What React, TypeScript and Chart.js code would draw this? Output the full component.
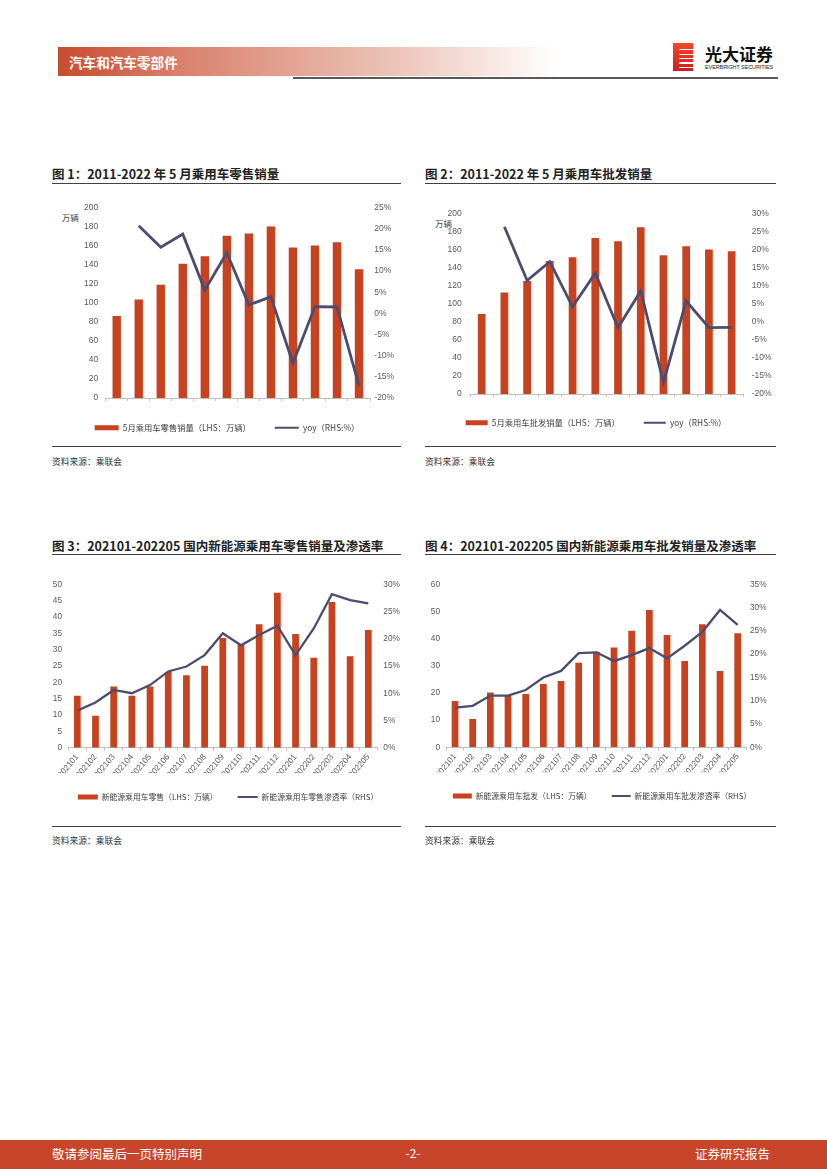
import React, { useEffect, useRef } from 'react';
import { Chart, registerables } from 'chart.js';

Chart.register(...registerables);

// ---------- data ----------
const years = ['2011', '2012', '2013', '2014', '2015', '2016', '2017', '2018', '2019', '2020', '2021', '2022'];
const retailMay = [86, 103.5, 119, 141, 148.8, 170.4, 172.8, 180, 157.9, 160, 163.4, 135.2];
const retailYoy = [null, 20.7, 15.6, 18.7, 5.5, 14.3, 2.0, 3.9, -11.8, 1.6, 1.5, -17.1];
const wholesaleMay = [88.8, 112.6, 125.5, 147.5, 151.9, 173.1, 169.5, 185.2, 154.1, 164, 160.4, 158.5];
const wholesaleYoy = [null, 26.4, 11.5, 16.7, 4.2, 13.5, -1.6, 8.6, -16.8, 5.8, -1.6, -1.5];

const months = ['202101', '202102', '202103', '202104', '202105', '202106', '202107', '202108', '202109', '202110', '202111', '202112', '202201', '202202', '202203', '202204', '202205'];
const nevRetail = [15.9, 9.8, 18.7, 15.9, 18.7, 23.2, 22.2, 25.1, 33.6, 31.6, 37.8, 47.4, 34.8, 27.5, 44.6, 28.0, 36.0];
const nevRetailRate = [6.8, 8.3, 10.6, 10.0, 11.5, 14.0, 14.9, 17.0, 21.0, 18.8, 20.7, 22.4, 17.0, 21.9, 28.2, 27.1, 26.5];
const nevWholesale = [17.0, 10.4, 20.2, 18.9, 19.6, 23.3, 24.4, 31.1, 35.2, 36.7, 42.9, 50.5, 41.3, 31.8, 45.3, 28.1, 42.0];
const nevWholesaleRate = [8.5, 8.9, 11.1, 11.1, 12.3, 15.0, 16.4, 20.2, 20.4, 18.5, 19.8, 21.3, 19.1, 21.8, 24.8, 29.5, 26.3];

// axis ranges [min, max, step]
const axis1Left = [0, 200, 20];
const axis1Right = [-20, 25, 5];
const axis2Left = [0, 200, 20];
const axis2Right = [-20, 30, 5];
const axis3Left = [0, 50, 5];
const axis3Right = [0, 30, 5];
const axis4Left = [0, 60, 10];
const axis4Right = [0, 35, 5];

// ---------- styles ----------
const BAR = '#C8421F';
const LINE = '#4B4D70';
const AXIS = '#BFBFBF';
const TICK = '#595959';
const FONT = '"Liberation Sans", "Noto Sans CJK SC", sans-serif';
const CJK = '"Noto Sans CJK SC", "Liberation Sans", sans-serif';

Chart.defaults.font.family = FONT;

type Spec = {
  labels: string[];
  bars: number[];
  line: (number | null)[];
  barLabel: string;
  lineLabel: string;
  left: number[];
  right: number[];
  canvasLeft: number;
  canvasTop: number;
  canvasWidth: number;
  plotLeft: number;
  plotRight: number;
  plotTop: number;
  plotBottom: number;
  legendY: number;
  legendFont: number;
  legendPad: number;
  swatch: number;
  tickFont: number;
  xFont: number;
  xPad: number;
  rotation: number;
  barPct: number;
  lineWidth: number;
  leftPad: number;
  rightPad: number;
};

function ComboChart({ s }: { s: Spec }) {
  const ref = useRef<HTMLCanvasElement>(null);
  const L = s.legendFont + s.legendPad + 10;
  const H = Math.round(s.legendY - s.canvasTop + 10 + s.legendFont / 2);
  const W = s.canvasWidth;
  const hx = Math.max(0, H - L - (s.plotBottom - s.canvasTop));
  useEffect(() => {
    const chart = new Chart(ref.current as HTMLCanvasElement, {
      type: 'bar',
      data: {
        labels: s.labels,
        datasets: [
          {
            type: 'bar',
            label: s.barLabel,
            data: s.bars,
            backgroundColor: BAR,
            yAxisID: 'y',
            barPercentage: s.barPct,
            categoryPercentage: 1,
            order: 2,
          } as any,
          {
            type: 'line',
            label: s.lineLabel,
            data: s.line,
            borderColor: LINE,
            backgroundColor: LINE,
            borderWidth: s.lineWidth,
            pointRadius: 0,
            tension: 0,
            yAxisID: 'y1',
            order: 1,
            borderJoinStyle: 'miter',
          } as any,
        ],
      },
      options: {
        responsive: false,
        animation: false,
        layout: { padding: { top: s.plotTop - s.canvasTop, left: 0, right: 0, bottom: 0 } },
        plugins: {
          tooltip: { enabled: false },
          legend: {
            position: 'bottom',
            labels: {
              usePointStyle: true,
              pointStyleWidth: s.swatch,
              boxHeight: 5,
              padding: s.legendPad,
              color: '#404040',
              font: { size: s.legendFont, family: CJK },
              generateLabels: (c: any) => {
                const items = (Chart.defaults.plugins.legend.labels as any).generateLabels(c);
                items.sort((a: any, b: any) => a.datasetIndex - b.datasetIndex);
                return items.map((it: any) =>
                  it.datasetIndex === 0
                    ? { ...it, pointStyle: 'rect', lineWidth: 0, fillStyle: BAR, strokeStyle: BAR }
                    : { ...it, pointStyle: 'line', lineWidth: 2, fillStyle: LINE, strokeStyle: LINE }
                );
              },
            },
          },
        },
        scales: {
          x: {
            grid: { display: true, drawOnChartArea: false, drawTicks: true, tickLength: 3, color: AXIS, offset: true },
            border: { display: true, color: AXIS },
            ticks: {
              font: { size: s.xFont },
              color: TICK,
              padding: s.xPad,
              maxRotation: s.rotation,
              minRotation: s.rotation,
              autoSkip: false,
            },
            afterFit: (sc: any) => {
              sc.height = hx;
            },
          },
          y: {
            position: 'left',
            min: s.left[0],
            max: s.left[1],
            ticks: { stepSize: s.left[2], font: { size: s.tickFont }, color: TICK, padding: s.leftPad },
            grid: { display: false, drawTicks: false },
            border: { display: false },
            afterFit: (sc: any) => {
              sc.width = s.plotLeft - s.canvasLeft;
            },
          },
          y1: {
            position: 'right',
            min: s.right[0],
            max: s.right[1],
            ticks: {
              stepSize: s.right[2],
              font: { size: s.tickFont },
              color: TICK,
              padding: s.rightPad,
              callback: (v: any) => v + '%',
            },
            grid: { display: false, drawTicks: false },
            border: { display: false },
            afterFit: (sc: any) => {
              sc.width = s.canvasLeft + W - s.plotRight;
            },
          },
        },
      } as any,
    });
    return () => chart.destroy();
  }, []);
  return (
    <canvas
      ref={ref}
      width={W}
      height={H}
      style={{ position: 'absolute', left: s.canvasLeft, top: s.canvasTop, width: W, height: H }}
    />
  );
}

function Txt({ x, y, size, children, color = '#333', bold = false, family = CJK, align = 'left' as any }: any) {
  const style: any = {
    position: 'absolute',
    top: y - size * 0.6,
    fontSize: size,
    lineHeight: size * 1.2 + 'px',
    color,
    fontWeight: bold ? 'bold' : 'normal',
    fontFamily: family,
    whiteSpace: 'nowrap',
  };
  if (align === 'center') {
    style.left = x;
    style.transform = 'translateX(-50%)';
  } else if (align === 'right') {
    style.right = 827 - x;
  } else {
    style.left = x;
  }
  return <div style={style}>{children}</div>;
}

function Rule({ x1, x2, y, color = '#404040', h = 1 }: any) {
  return <div style={{ position: 'absolute', left: x1, top: y, width: x2 - x1, height: h, background: color }} />;
}

const spec1: Spec = {
  labels: years, bars: retailMay, line: retailYoy,
  barLabel: '5月乘用车零售销量（LHS：万辆）', lineLabel: 'yoy（RHS:%）',
  left: axis1Left, right: axis1Right,
  canvasLeft: 52, canvasTop: 195, canvasWidth: 350,
  plotLeft: 105.7, plotRight: 370, plotTop: 206.7, plotBottom: 398,
  legendY: 428.3, legendFont: 8.3, legendPad: 24, swatch: 24,
  tickFont: 8.5, xFont: 8.5, xPad: 2.2, rotation: 0, barPct: 0.38, lineWidth: 2.8,
  leftPad: 7.4, rightPad: 4.3,
};
const spec2: Spec = {
  labels: years, bars: wholesaleMay, line: wholesaleYoy,
  barLabel: '5月乘用车批发销量（LHS：万辆）', lineLabel: 'yoy（RHS:%）',
  left: axis2Left, right: axis2Right,
  canvasLeft: 418, canvasTop: 200, canvasWidth: 356,
  plotLeft: 470.3, plotRight: 743, plotTop: 212.3, plotBottom: 394,
  legendY: 423.3, legendFont: 8.3, legendPad: 24, swatch: 22,
  tickFont: 8.5, xFont: 8.5, xPad: 1.9, rotation: 0, barPct: 0.34, lineWidth: 2.8,
  leftPad: 8.6, rightPad: 8.7,
};
const spec3: Spec = {
  labels: months, bars: nevRetail, line: nevRetailRate,
  barLabel: '新能源乘用车零售（LHS：万辆）', lineLabel: '新能源乘用车零售渗透率（RHS）',
  left: axis3Left, right: axis3Right,
  canvasLeft: 36, canvasTop: 570, canvasWidth: 384,
  plotLeft: 68.2, plotRight: 377.4, plotTop: 584.3, plotBottom: 747.7,
  legendY: 796.7, legendFont: 7.8, legendPad: 20, swatch: 20,
  tickFont: 8.3, xFont: 8.3, xPad: 1.5, rotation: 50, barPct: 0.37, lineWidth: 2.3,
  leftPad: 6.2, rightPad: 5.9,
};
const spec4: Spec = {
  labels: months, bars: nevWholesale, line: nevWholesaleRate,
  barLabel: '新能源乘用车批发（LHS：万辆）', lineLabel: '新能源乘用车批发渗透率（RHS）',
  left: axis4Left, right: axis4Right,
  canvasLeft: 416, canvasTop: 570, canvasWidth: 372,
  plotLeft: 446.2, plotRight: 746.5, plotTop: 584.3, plotBottom: 747.3,
  legendY: 796, legendFont: 7.8, legendPad: 20, swatch: 19,
  tickFont: 8.3, xFont: 8.3, xPad: 1.5, rotation: 50, barPct: 0.38, lineWidth: 2.3,
  leftPad: 6.2, rightPad: 3.5,
};

export default function App() {
  return (
    <div style={{ position: 'absolute', left: 0, top: 0, width: 827, height: 1169, background: '#fff', overflow: 'hidden' }}>
      {/* header */}
      <div
        style={{
          position: 'absolute', left: 58, top: 47, width: 500, height: 29,
          background: 'linear-gradient(to right, #C84B2E 0%, #D9806B 24%, #EDC5BA 68%, #FFFFFF 100%)',
        }}
      />
      <Txt x={69} y={62.5} size={13.6} color="#fff" bold>汽车和汽车零部件</Txt>
      <Rule x1={293} x2={778} y={77} h={2} color="#595959" />
      {/* logo */}
      <div
        style={{
          position: 'absolute', left: 673, top: 43, width: 20, height: 28,
          background: 'linear-gradient(to bottom, #F04A2A, #D01A1E)',
        }}
      />
      <div
        style={{
          position: 'absolute', left: 679, top: 46, width: 14, height: 22,
          background: 'repeating-linear-gradient(to bottom, transparent 0px, transparent 3px, #fff 3px, #fff 4.5px)',
        }}
      />
      <Txt x={705} y={54} size={17} color="#111" bold>光大证券</Txt>
      <div
        style={{
          position: 'absolute', left: 705, top: 64, fontSize: 5.5, lineHeight: '6px', color: '#222',
          fontFamily: FONT, whiteSpace: 'nowrap', letterSpacing: '-0.1px',
        }}
      >
        EVERBRIGHT SECURITIES
      </div>

      {/* chart 1 */}
      <Txt x={52} y={173.3} size={12.5} bold color="#222">图 1：2011-2022 年 5 月乘用车零售销量</Txt>
      <Rule x1={52} x2={401} y={183} />
      <Txt x={61.7} y={217.3} size={8.5} color="#404040">万辆</Txt>
      <ComboChart s={spec1} />
      <Rule x1={52} x2={401} y={445.5} />
      <Txt x={52} y={462.5} size={8.75}>资料来源：乘联会</Txt>

      {/* chart 2 */}
      <Txt x={425} y={173.3} size={12.5} bold color="#222">图 2：2011-2022 年 5 月乘用车批发销量</Txt>
      <Rule x1={425} x2={776} y={183} />
      <Txt x={435} y={222.7} size={8.5} color="#404040">万辆</Txt>
      <ComboChart s={spec2} />
      <Rule x1={425} x2={776} y={445.5} />
      <Txt x={425} y={462.5} size={8.75}>资料来源：乘联会</Txt>

      {/* chart 3 */}
      <Txt x={52} y={545} size={12.5} bold color="#222">图 3：202101-202205 国内新能源乘用车零售销量及渗透率</Txt>
      <Rule x1={52} x2={401} y={554} />
      <ComboChart s={spec3} />
      <Rule x1={52} x2={401} y={825.5} />
      <Txt x={52} y={841.5} size={8.75}>资料来源：乘联会</Txt>

      {/* chart 4 */}
      <Txt x={425} y={545} size={12.5} bold color="#222">图 4：202101-202205 国内新能源乘用车批发销量及渗透率</Txt>
      <Rule x1={425} x2={776} y={554} />
      <ComboChart s={spec4} />
      <Rule x1={425} x2={776} y={825.5} />
      <Txt x={425} y={841.5} size={8.75}>资料来源：乘联会</Txt>

      {/* footer */}
      <div style={{ position: 'absolute', left: 0, top: 1140, width: 827, height: 29, background: '#C8452C' }} />
      <Txt x={52} y={1153.5} size={12.5} color="#fff">敬请参阅最后一页特别声明</Txt>
      <Txt x={413} y={1153.5} size={12} color="#fff" align="center">-2-</Txt>
      <Txt x={770} y={1153.5} size={12.5} color="#fff" align="right">证券研究报告</Txt>
    </div>
  );
}
